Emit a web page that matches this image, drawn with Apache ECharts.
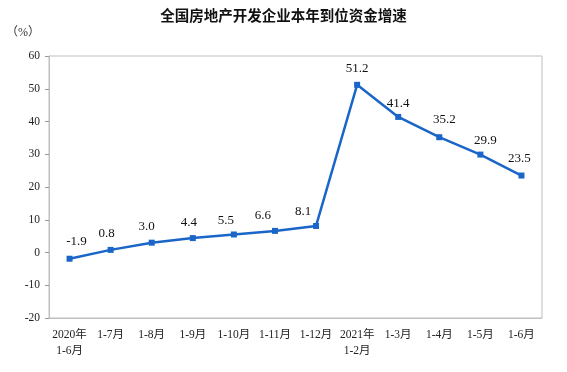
<!DOCTYPE html>
<html><head><meta charset="utf-8">
<script src="https://cdn.jsdelivr.net/npm/echarts@6/dist/echarts.min.js"></script>
<style>html,body{margin:0;padding:0;background:#fff}#c{width:567px;height:372px}</style>
</head><body><div id="c"></div>
<script>
const categories = ['2020年\n1-6月','1-7月','1-8月','1-9月','1-10月','1-11月','1-12月','2021年\n1-2月','1-3月','1-4月','1-5月','1-6月'];
const values = [-1.9, 0.8, 3.0, 4.4, 5.5, 6.6, 8.1, 51.2, 41.4, 35.2, 29.9, 23.5];
const yTicks = {min: -20, max: 60, interval: 10};
// label nudges (style only)
const labelNudge = [[7,-1],[-4,0],[-5,0],[-4,1],[-8,3],[-12,1],[-13,2],[0,0],[0,3],[5,-1],[5,3],[-2,0]];
const serif = '"Liberation Serif","Times New Roman","Noto Sans CJK SC",serif';
const chart = echarts.init(document.getElementById('c'), null, {renderer:'canvas'});
chart.setOption({
  animation: false,
  title: {text: '全国房地产开发企业本年到位资金增速', left: 'center', top: 3,
    textStyle: {fontFamily: '"Noto Sans CJK SC",sans-serif', fontSize: 14.5, fontWeight: 'bold', color: '#111'}},
  graphic: [{type: 'text', left: 6, top: 27, style: {text: '（%）', font: '12px ' + serif, fill: '#333'}}],
  grid: {left: 49, right: 25, top: 56, bottom: 54, show: true, borderColor: '#bfbfbf', borderWidth: 1},
  xAxis: {type: 'category', data: categories, boundaryGap: true,
    axisLine: {onZero: false, lineStyle: {color: '#bfbfbf'}},
    axisTick: {inside: true, length: 4, lineStyle: {color: '#999'}},
    axisLabel: {interval: 0, fontFamily: serif, fontSize: 11.5, color: '#222', margin: 9, lineHeight: 16}},
  yAxis: {type: 'value', min: yTicks.min, max: yTicks.max, interval: yTicks.interval,
    splitLine: {show: false},
    axisLine: {show: true, lineStyle: {color: '#bfbfbf'}},
    axisTick: {show: true, length: 4, lineStyle: {color: '#999'}},
    axisLabel: {fontFamily: serif, fontSize: 11.5, color: '#222', margin: 9,
      formatter: v => String(v)}},
  series: [{type: 'line',
    data: values.map((v, i) => ({value: v, label: {offset: labelNudge[i]}})),
    symbol: 'rect', symbolSize: 6,
    lineStyle: {color: '#1a66c8', width: 2.5}, itemStyle: {color: '#1a66c8'},
    label: {show: true, position: 'top', distance: 7, fontFamily: serif, fontSize: 13, color: '#111',
      formatter: p => p.value.toFixed(1)}}]
});
</script></body></html>
